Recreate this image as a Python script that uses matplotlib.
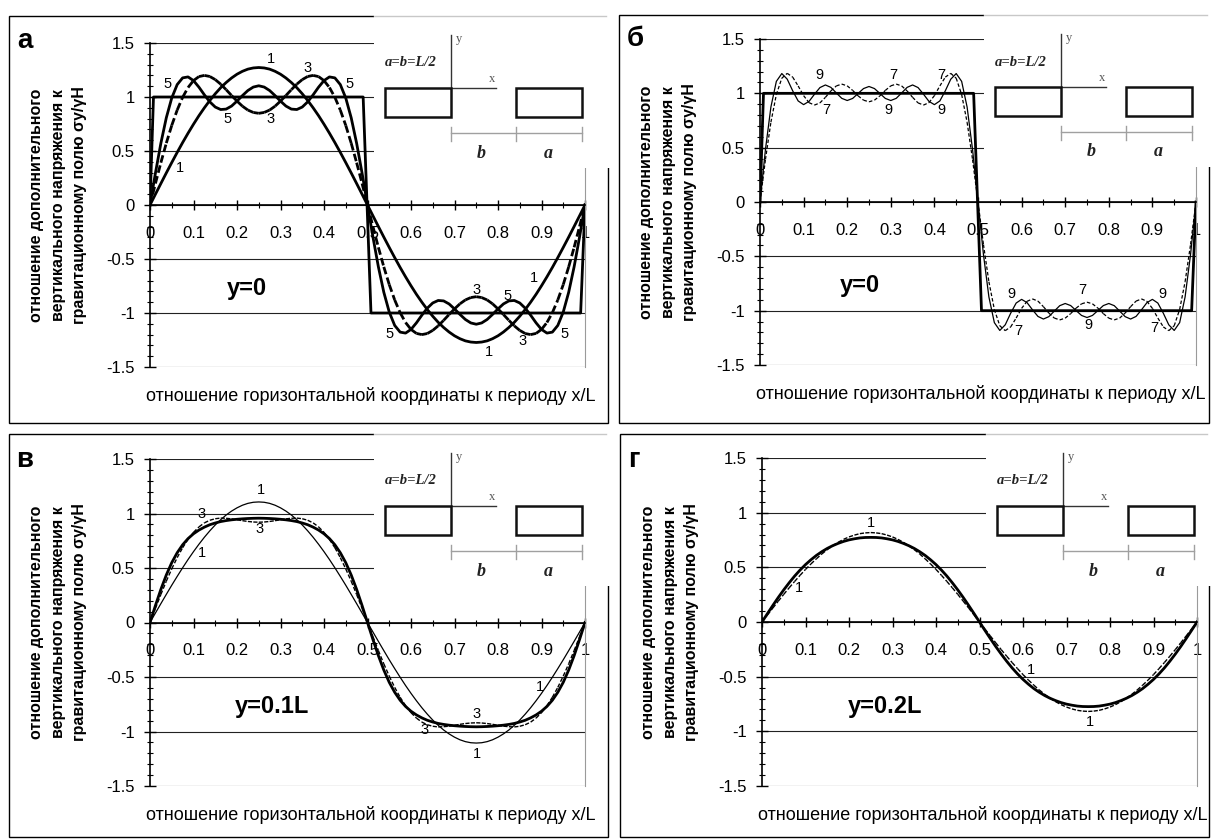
import numpy as np
import matplotlib
matplotlib.use('Agg')
import matplotlib.pyplot as plt
from matplotlib.collections import LineCollection
from matplotlib.patches import Rectangle
from matplotlib.ticker import MultipleLocator, FixedLocator

plt.rcParams['font.family'] = ['Liberation Sans', 'DejaVu Sans']
plt.rcParams['axes.unicode_minus'] = False
plt.rcParams['lines.scale_dashes'] = False

# ---------------- data ----------------
X = [0, .0125, .025, .0375, .05, .0625, .075, .0875, .1, .1125, .125, .1375, .15, .1625, .175, .1875, .2,
     .2125, .225, .2375, .25, .2625, .275, .2875, .3, .3125, .325, .3375, .35, .3625, .375, .3875, .4,
     .4125, .425, .4375, .45, .4625, .475, .4875, .5, .5125, .525, .5375, .55, .5625, .575, .5875, .6,
     .6125, .625, .6375, .65, .6625, .675, .6875, .7, .7125, .725, .7375, .75, .7625, .775, .7875, .8,
     .8125, .825, .8375, .85, .8625, .875, .8875, .9, .9125, .925, .9375, .95, .9625, .975, .9875, 1.0]

SQ_X = [0, 0.008, 0.49, 0.508, 0.99, 1.0]
SQ_Y = [0, 1, 1, -1, -1, 0]

# y = 0, 1 harmonic
S1_Y0 = [0, .100, .199, .297, .393, .487, .578, .665, .748, .827, .900, .968, 1.030, 1.086, 1.134, 1.176, 1.211, 1.238, 1.258, 1.269, 1.273,
         1.269, 1.258, 1.238, 1.211, 1.176, 1.134, 1.086, 1.030, .968, .900, .827, .748, .665, .578, .487, .393, .297, .199, .100, 0,
         -.100, -.199, -.297, -.393, -.487, -.578, -.665, -.748, -.827, -.900, -.968, -1.030, -1.086, -1.134, -1.176, -1.211, -1.238, -1.258, -1.269, -1.273,
         -1.269, -1.258, -1.238, -1.211, -1.176, -1.134, -1.086, -1.030, -.968, -.900, -.827, -.748, -.665, -.578, -.487, -.393, -.297, -.199, -.100, 0]
# y = 0, 3 harmonics
S3_Y0 = [0, .199, .392, .573, .737, .879, .997, 1.088, 1.152, 1.189, 1.200, 1.190, 1.161, 1.119, 1.068, 1.014, .962, .915, .879, .857, .849,
         .857, .879, .915, .962, 1.014, 1.068, 1.119, 1.161, 1.190, 1.200, 1.189, 1.152, 1.088, .997, .879, .737, .573, .392, .199, 0,
         -.199, -.392, -.573, -.737, -.879, -.997, -1.088, -1.152, -1.189, -1.200, -1.190, -1.161, -1.119, -1.068, -1.014, -.962, -.915, -.879, -.857, -.849,
         -.857, -.879, -.915, -.962, -1.014, -1.068, -1.119, -1.161, -1.190, -1.200, -1.189, -1.152, -1.088, -.997, -.879, -.737, -.573, -.392, -.199, 0]
# y = 0, 5 harmonics
S5_Y0 = [0, .296, .572, .808, .991, 1.115, 1.177, 1.186, 1.152, 1.091, 1.020, .955, .907, .884, .888, .916, .962, 1.013, 1.060, 1.092, 1.104,
         1.092, 1.060, 1.013, .962, .916, .888, .884, .907, .955, 1.020, 1.091, 1.152, 1.186, 1.177, 1.115, .991, .808, .572, .296, 0,
         -.296, -.572, -.808, -.991, -1.115, -1.177, -1.186, -1.152, -1.091, -1.020, -.955, -.907, -.884, -.888, -.916, -.962, -1.013, -1.060, -1.092, -1.104,
         -1.092, -1.060, -1.013, -.962, -.916, -.888, -.884, -.907, -.955, -1.020, -1.091, -1.152, -1.186, -1.177, -1.115, -.991, -.808, -.572, -.296, 0]
# y = 0, 7 harmonics
S7_Y0 = [0, .391, .734, .989, 1.139, 1.184, 1.149, 1.068, .979, .914, .892, .912, .963, 1.022, 1.068, 1.085, 1.069, 1.027, .977, .937, .922,
         .937, .977, 1.027, 1.069, 1.085, 1.068, 1.022, .963, .912, .892, .914, .979, 1.068, 1.149, 1.184, 1.139, .989, .734, .391, 0,
         -.391, -.734, -.989, -1.139, -1.184, -1.149, -1.068, -.979, -.914, -.892, -.912, -.963, -1.022, -1.068, -1.085, -1.069, -1.027, -.977, -.937, -.922,
         -.937, -.977, -1.027, -1.069, -1.085, -1.068, -1.022, -.963, -.912, -.892, -.914, -.979, -1.068, -1.149, -1.184, -1.139, -.989, -.734, -.391, 0]
# y = 0, 9 harmonics
S9_Y0 = [0, .483, .874, 1.110, 1.182, 1.130, 1.023, .930, .896, .926, .992, 1.053, 1.077, 1.055, 1.004, .954, .934, .953, .999, 1.044, 1.063,
         1.044, .999, .953, .934, .954, 1.004, 1.055, 1.077, 1.053, .992, .926, .896, .930, 1.023, 1.130, 1.182, 1.110, .874, .483, 0,
         -.483, -.874, -1.110, -1.182, -1.130, -1.023, -.930, -.896, -.926, -.992, -1.053, -1.077, -1.055, -1.004, -.954, -.934, -.953, -.999, -1.044, -1.063,
         -1.044, -.999, -.953, -.934, -.954, -1.004, -1.055, -1.077, -1.053, -.992, -.926, -.896, -.930, -1.023, -1.130, -1.182, -1.110, -.874, -.483, 0]
# y = 0.1L
S1_Y1 = [0, .087, .173, .258, .342, .423, .502, .578, .650, .718, .782, .841, .895, .943, .986, 1.022, 1.052, 1.076, 1.093, 1.103, 1.106,
         1.103, 1.093, 1.076, 1.052, 1.022, .986, .943, .895, .841, .782, .718, .650, .578, .502, .423, .342, .258, .173, .087, 0,
         -.087, -.173, -.258, -.342, -.423, -.502, -.578, -.650, -.718, -.782, -.841, -.895, -.943, -.986, -1.022, -1.052, -1.076, -1.093, -1.103, -1.106,
         -1.103, -1.093, -1.076, -1.052, -1.022, -.986, -.943, -.895, -.841, -.782, -.718, -.650, -.578, -.502, -.423, -.342, -.258, -.173, -.087, 0]
S3_Y1 = [0, .130, .257, .379, .492, .595, .686, .763, .827, .877, .914, .938, .952, .958, .956, .951, .943, .934, .927, .922, .920,
         .922, .927, .934, .943, .951, .956, .958, .952, .938, .914, .877, .827, .763, .686, .595, .492, .379, .257, .130, 0,
         -.130, -.257, -.379, -.492, -.595, -.686, -.763, -.827, -.877, -.914, -.938, -.952, -.958, -.956, -.951, -.943, -.934, -.927, -.922, -.920,
         -.922, -.927, -.934, -.943, -.951, -.956, -.958, -.952, -.938, -.914, -.877, -.827, -.763, -.686, -.595, -.492, -.379, -.257, -.130, 0]
FULL_Y1 = [0, .156, .304, .436, .549, .640, .713, .770, .814, .848, .875, .897, .913, .926, .935, .942, .947, .951, .954, .956, .957,
           .956, .954, .951, .947, .942, .935, .926, .913, .897, .875, .848, .814, .770, .713, .640, .549, .436, .304, .156, 0,
           -.156, -.304, -.436, -.549, -.640, -.713, -.770, -.814, -.848, -.875, -.897, -.913, -.926, -.935, -.942, -.947, -.951, -.954, -.956, -.957,
           -.956, -.954, -.951, -.947, -.942, -.935, -.926, -.913, -.897, -.875, -.848, -.814, -.770, -.713, -.640, -.549, -.436, -.304, -.156, 0]
# y = 0.2L
S1_Y2 = [0, .064, .128, .191, .253, .313, .371, .427, .481, .531, .578, .622, .662, .697, .729, .756, .778, .795, .808, .815, .818,
         .815, .808, .795, .778, .756, .729, .697, .662, .622, .578, .531, .481, .427, .371, .313, .253, .191, .128, .064, 0,
         -.064, -.128, -.191, -.253, -.313, -.371, -.427, -.481, -.531, -.578, -.622, -.662, -.697, -.729, -.756, -.778, -.795, -.808, -.815, -.818,
         -.815, -.808, -.795, -.778, -.756, -.729, -.697, -.662, -.622, -.578, -.531, -.481, -.427, -.371, -.313, -.253, -.191, -.128, -.064, 0]
FULL_Y2 = [0, .077, .152, .225, .294, .359, .420, .475, .525, .569, .609, .643, .673, .698, .719, .737, .751, .761, .769, .773, .774,
           .773, .769, .761, .751, .737, .719, .698, .673, .643, .609, .569, .525, .475, .420, .359, .294, .225, .152, .077, 0,
           -.077, -.152, -.225, -.294, -.359, -.420, -.475, -.525, -.569, -.609, -.643, -.673, -.698, -.719, -.737, -.751, -.761, -.769, -.773, -.774,
           -.773, -.769, -.761, -.751, -.737, -.719, -.698, -.673, -.643, -.609, -.569, -.525, -.475, -.420, -.359, -.294, -.225, -.152, -.077, 0]

X_TICKS = [0, 0.1, 0.2, 0.3, 0.4, 0.5, 0.6, 0.7, 0.8, 0.9, 1.0]
X_TICK_LABELS = ['0', '0.1', '0.2', '0.3', '0.4', '0.5', '0.6', '0.7', '0.8', '0.9', '1']
Y_TICKS = [-1.5, -1, -0.5, 0, 0.5, 1, 1.5]
Y_TICK_LABELS = ['-1.5', '-1', '-0.5', '0', '0.5', '1', '1.5']

YLABEL = "отношение дополнительного\nвертикального напряжения к\nгравитационному полю σy/γH"
XLABEL = "отношение горизонтальной координаты к периоду x/L"

LABELS_A = [('1', .278, 1.35), ('3', .363, 1.27), ('5', .040, 1.12), ('5', .459, 1.12),
            ('5', .179, .80), ('3', .278, .80), ('1', .069, .34),
            ('3', .751, -.79), ('5', .823, -.84), ('1', .883, -.68), ('5', .550, -1.19),
            ('3', .856, -1.26), ('5', .952, -1.19), ('1', .780, -1.36)]
LABELS_B = [('9', .136, 1.17), ('7', .305, 1.17), ('7', .415, 1.17), ('7', .152, .846),
            ('9', .295, .846), ('9', .415, .846), ('9', .576, -.85), ('7', .739, -.81),
            ('9', .922, -.85), ('7', .592, -1.19), ('9', .754, -1.13), ('7', .904, -1.16)]
LABELS_C = [('1', .254, 1.22), ('3', .119, 1.0), ('3', .251, .855), ('1', .119, .64),
            ('1', .897, -.59), ('3', .751, -.837), ('3', .630, -.99), ('1', .751, -1.206)]
LABELS_D = [('1', .251, .908), ('1', .085, .314), ('1', .619, -.44), ('1', .753, -.917)]

# ---------------- figure ----------------
W, H = 1211, 839
fig = plt.figure(figsize=(W / 100, H / 100), dpi=100)


def fx(px):
    return px / W


def fy(py):
    return 1 - py / H


PANELS = [
    dict(axpx=(150, 585, 43, 367), box=(9, 16, 608, 423), inset=(374, 16), letter='а', lpos=(17, 48),
         cond='y=0', cx=0.222,
         curves=[(SQ_X, SQ_Y, 2.0, None), (X, S1_Y0, 2.0, None), (X, S3_Y0, 2.0, (5.5, 2.5)), (X, S5_Y0, 2.0, None)],
         labels=LABELS_A),
    dict(axpx=(760, 1196, 39, 365), box=(619, 15, 1209, 423), inset=(984, 15), letter='б', lpos=(627, 46),
         cond='y=0', cx=0.229,
         curves=[(SQ_X, SQ_Y, 2.0, None), (X, S7_Y0, 0.9, (2.5, 1.5)), (X, S9_Y0, 0.9, None)],
         labels=LABELS_B),
    dict(axpx=(150, 585, 459, 786), box=(9, 434, 608, 837), inset=(374, 434), letter='в', lpos=(16, 467),
         cond='y=0.1L', cx=0.28,
         curves=[(X, FULL_Y1, 2.0, None), (X, S1_Y1, 0.9, None), (X, S3_Y1, 1.0, (3, 1.5))],
         labels=LABELS_C),
    dict(axpx=(762, 1197, 458, 786), box=(620, 434, 1209, 837), inset=(986, 434), letter='г', lpos=(628, 467),
         cond='y=0.2L', cx=0.282,
         curves=[(X, FULL_Y2, 2.0, None), (X, S1_Y2, 1.0, (3, 1.5))],
         labels=LABELS_D),
]

axes = []
for p in PANELS:
    x0, x1, yt, yb = p['axpx']
    ax = fig.add_axes([fx(x0), fy(yb), fx(x1) - fx(x0), fy(yt) - fy(yb)])
    ax.patch.set_alpha(0)
    ax.set_xlim(0, 1)
    ax.set_ylim(-1.5, 1.5)
    ax.xaxis.set_major_locator(FixedLocator(X_TICKS))
    ax.set_xticklabels(X_TICK_LABELS)
    ax.xaxis.set_minor_locator(MultipleLocator(0.05))
    ax.yaxis.set_major_locator(FixedLocator(Y_TICKS))
    ax.set_yticklabels(Y_TICK_LABELS)
    ax.yaxis.set_minor_locator(MultipleLocator(0.1))
    ax.tick_params(axis='x', which='major', direction='inout', length=6.7, width=1.0, pad=11.5,
                   labelsize=12, colors='k')
    ax.tick_params(axis='x', which='minor', direction='inout', length=4.8, width=0.8)
    ax.tick_params(axis='y', which='major', direction='inout', length=8, width=1.0, pad=7, labelsize=12)
    ax.tick_params(axis='y', which='minor', direction='inout', length=4, width=0.8)
    ax.spines['bottom'].set_position(('data', 0))
    ax.spines['bottom'].set_linewidth(1.2)
    ax.spines['left'].set_linewidth(1.2)
    ax.spines['top'].set_visible(False)
    ax.spines['right'].set_color('#9a9a9a')
    ax.spines['right'].set_linewidth(0.8)
    ax.grid(axis='y', which='major', color='#222222', lw=0.8)
    ax.set_axisbelow(True)

    for cxs, cys, lw, dash in p['curves']:
        if dash is None:
            ax.plot(cxs, cys, color='k', lw=lw, solid_joinstyle='round', zorder=3)
        else:
            segs = [[(cxs[i], cys[i]), (cxs[i + 1], cys[i + 1])] for i in range(len(cxs) - 1)]
            lc = LineCollection(segs, colors='k', linewidths=lw, linestyles=[(0, dash)], zorder=3)
            ax.add_collection(lc)

    for t, tx, ty in p['labels']:
        ax.text(tx, ty, t, fontsize=10.5, ha='center', va='center', zorder=4)

    ax.text(p['cx'], -0.83, p['cond'], fontsize=17, fontweight='bold', ha='center', va='baseline')
    axes.append(ax)

# overlay for frames, insets, titles
ov = fig.add_axes([0, 0, 1, 1], zorder=10)
ov.set_xlim(0, W)
ov.set_ylim(H, 0)
ov.axis('off')
ov.patch.set_alpha(0)

serif = ['Liberation Serif', 'DejaVu Serif']

for p in PANELS:
    l, t, r, b = p['box']
    x0, x1, yt, yb = p['axpx']
    ov.add_patch(Rectangle((l, t), r - l, b - t, fill=False, ec='k', lw=1.0, zorder=1))
    ix, iy = p['inset']
    ov.add_patch(Rectangle((ix, iy - 2), r - ix + 3, 154, fc='white', ec='none', zorder=2))
    ov.plot([ix, r - 2], [iy, iy], color='#c8c8c8', lw=1.0, zorder=3)
    ov.text(ix + 63, iy + 47, 'a=b=L/2', family=serif, style='italic', fontweight='bold',
            fontsize=10.5, ha='right', va='center', color='#222', zorder=3)
    ov.plot([ix + 77, ix + 77], [iy + 19, iy + 72], color='#333', lw=1.0, zorder=3)
    ov.text(ix + 82, iy + 23, 'y', family=serif, fontsize=9, ha='left', va='center', color='#555', zorder=3)
    ov.plot([ix + 77, ix + 122], [iy + 72, iy + 72], color='#333', lw=1.0, zorder=3)
    ov.text(ix + 118, iy + 63, 'x', family=serif, fontsize=9, ha='center', va='center', color='#555', zorder=3)
    ov.add_patch(Rectangle((ix + 11, iy + 72), 66, 29, fill=False, ec='#111', lw=1.8, zorder=3))
    ov.add_patch(Rectangle((ix + 142, iy + 72), 66, 29, fill=False, ec='#111', lw=1.8, zorder=3))
    ov.plot([ix + 77, ix + 208], [iy + 117, iy + 117], color='#a0a0a0', lw=1.0, zorder=3)
    for tx in (ix + 77, ix + 142, ix + 208):
        ov.plot([tx, tx], [iy + 111, iy + 125], color='#a0a0a0', lw=1.0, zorder=3)
    ov.text(ix + 107, iy + 137, 'b', family=serif, style='italic', fontweight='bold', fontsize=13,
            ha='center', va='center', color='#222', zorder=3)
    ov.text(ix + 174, iy + 137, 'a', family=serif, style='italic', fontweight='bold', fontsize=13,
            ha='center', va='center', color='#222', zorder=3)

    # panel letter
    ov.text(p['lpos'][0], p['lpos'][1], p['letter'], fontsize=20, fontweight='bold',
            ha='left', va='baseline', zorder=3)
    # y label
    ov.text(x0 - 92, (yt + yb) / 2, YLABEL, rotation=90, fontsize=11.5, fontweight='bold',
            ha='center', va='center', multialignment='center', linespacing=1.55, zorder=3)
    # x label
    ov.text((x0 + x1) / 2 + 3, yb + 34, XLABEL, fontsize=13, ha='center', va='baseline', zorder=3)

fig.savefig('out.png', dpi=100)
